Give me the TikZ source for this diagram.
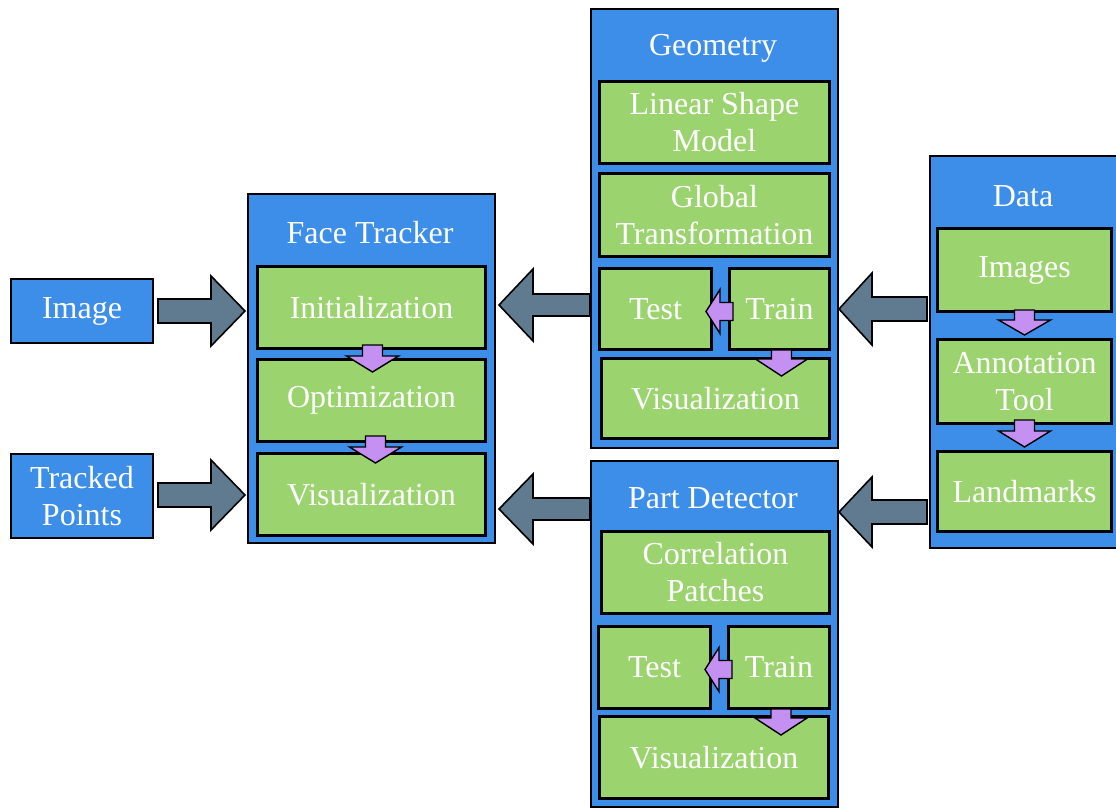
\documentclass[tikz,border=0pt]{standalone}
\usepackage{fontspec}
\setmainfont{Liberation Serif}
\usetikzlibrary{calc}

\definecolor{panelblue}{RGB}{60,142,232}
\definecolor{stepgreen}{RGB}{155,211,111}
\definecolor{flowgray}{RGB}{96,122,143}
\definecolor{flowviolet}{RGB}{196,144,242}

% block arrow from #2 to #3: #4 = half shaft width, #5 = half head width, #6 = head length
\newcommand\blockarrow[6]{%
  \draw[#1] let \p1=#2, \p2=#3,
      \n1={veclen(\x2-\x1,\y2-\y1)},
      \n2={(\x2-\x1)/\n1}, \n3={(\y2-\y1)/\n1} in
    ({\x1-\n3*#4},{\y1+\n2*#4})
    -- ({\x2-\n2*#6-\n3*#4},{\y2-\n3*#6+\n2*#4})
    -- ({\x2-\n2*#6-\n3*#5},{\y2-\n3*#6+\n2*#5})
    -- (\x2,\y2)
    -- ({\x2-\n2*#6+\n3*#5},{\y2-\n3*#6-\n2*#5})
    -- ({\x2-\n2*#6+\n3*#4},{\y2-\n3*#6-\n2*#4})
    -- ({\x1+\n3*#4},{\y1-\n2*#4}) -- cycle;}

\tikzset{
  panel/.style={draw=black, line width=2pt, fill=panelblue, anchor=north west,
    inner sep=0pt},
  stepbox/.style={draw=black, line width=3pt, fill=stepgreen, anchor=north west,
    inner sep=0pt, text=white, align=center},
  inputbox/.style={draw=black, line width=2pt, fill=panelblue, anchor=north west,
    inner sep=0pt, text=white, align=center},
  paneltitle/.style={text=white, inner sep=0pt},
  bigflow/.style={draw=black, line width=1.6pt, fill=flowgray, line join=miter},
  smallflow/.style={draw=black, line width=1.4pt, fill=flowviolet, line join=miter},
}

\begin{document}
\begin{tikzpicture}[x=1pt, y=-1pt, font=\fontsize{32}{37}\selectfont]
\useasboundingbox (0,0) rectangle (1116,808);
\clip (0,0) rectangle (1116,808);

% inputs
\node[inputbox, minimum width=142, minimum height=64] (img) at (10,278) {Image};
\node[inputbox, minimum width=142, minimum height=84] (trk) at (10,453) {Tracked\\Points};

% face tracker
\node[panel, minimum width=247, minimum height=349] (ft) at (247,193) {};
\node[paneltitle] (ftT) at (370,233) {Face Tracker};
\node[stepbox, minimum width=228, minimum height=82] (ftinit) at (256,265) {Initialization};
\node[stepbox, minimum width=228, minimum height=82] (ftopt) at (256,358) {Optimization};
\node[stepbox, minimum width=228, minimum height=82] (ftvis) at (256,452) {Visualization};

% geometry
\node[panel, minimum width=247, minimum height=439] (geo) at (590,8) {};
\node[paneltitle] (geoT) at (713,48) {Geometry};
\node[stepbox, minimum width=230, minimum height=82] (lsm) at (598,80) {Linear Shape\\Model};
\node[stepbox, minimum width=230, minimum height=83] (gt) at (598,172) {Global\\Transformation};
\node[stepbox, minimum width=112, minimum height=81] (gtest) at (598,267) {Test};
\node[stepbox, minimum width=100, minimum height=81] (gtrain) at (728,267) {Train};
\node[stepbox, minimum width=228, minimum height=80] (gvis) at (600,357) {Visualization};

% part detector
\node[panel, minimum width=247, minimum height=346] (pd) at (590,460) {};
\node[paneltitle] (pdT) at (713,498) {Part Detector};
\node[stepbox, minimum width=228, minimum height=82] (cp) at (600,530) {Correlation\\Patches};
\node[stepbox, minimum width=112, minimum height=82] (ptest) at (597,625) {Test};
\node[stepbox, minimum width=101, minimum height=82] (ptrain) at (727,625) {Train};
\node[stepbox, minimum width=229, minimum height=82] (pvis) at (598,715) {Visualization};

% data
\node[panel, minimum width=189, minimum height=392] (data) at (929,155) {};
\node[paneltitle] (dataT) at (1023,196) {Data};
\node[stepbox, minimum width=174, minimum height=83] (imgs) at (936,227) {Images};
\node[stepbox, minimum width=174, minimum height=84] (ann) at (936,338) {Annotation\\Tool};
\node[stepbox, minimum width=174, minimum height=80] (lm) at (936,450) {Landmarks};

% anchor points for the flows between panels
\coordinate (geoout) at ($(geo.west |- gtest.center)+(0,-4)$);
\coordinate (ftgeo)  at ($(ft.east |- geoout)+(3,0)$);
\coordinate (pdout)  at ($(pd.north west)+(0,49)$);
\coordinate (ftpd)   at ($(ft.east |- pdout)+(3,0)$);
\coordinate (datageo) at ($(data.west |- gtest.center)+(-2,0)$);
\coordinate (geoin)   at (geo.east |- datageo);
\coordinate (datapd)  at ($(data.west |- pd.north)+(-2,52)$);
\coordinate (pdin)    at (pd.east |- datapd);

% flows between panels
\blockarrow{bigflow}{($(img.east)+(4,0)$)}{($(ft.west |- img.east)+(-2,0)$)}{12}{35}{34}
\blockarrow{bigflow}{($(trk.east)+(4,-1)$)}{($(ft.west |- trk.east)+(-2,-1)$)}{12}{35}{34}
\blockarrow{bigflow}{(geoout)}{(ftgeo)}{11}{36}{34}
\blockarrow{bigflow}{(pdout)}{(ftpd)}{11}{35}{34}
\blockarrow{bigflow}{(datageo)}{(geoin)}{12}{36}{33}
\blockarrow{bigflow}{(datapd)}{(pdin)}{12}{35}{33}

% flows inside the panels
\blockarrow{smallflow}{($(ftinit.south)+(1,-5)$)}{($(ftopt.north)+(1,14)$)}{10}{26}{16}
\blockarrow{smallflow}{($(ftopt.south)+(4,-7)$)}{($(ftvis.north)+(4,11)$)}{10}{26}{16}
\blockarrow{smallflow}{($(gtrain.west)+(5,2.5)$)}{($(gtest.east |- gtrain.west)+(-7,2.5)$)}{9}{22}{14}
\blockarrow{smallflow}{($(gtrain.south)+(2,-1)$)}{($(gtrain.south |- gvis.north)+(2,19)$)}{10}{26}{17}
\blockarrow{smallflow}{($(ptrain.west)+(5,2)$)}{($(ptest.east |- ptrain.west)+(-7,2)$)}{9}{22}{14}
\blockarrow{smallflow}{($(ptrain.south)+(2,-1)$)}{($(ptrain.south |- pvis.north)+(2,20)$)}{10}{26}{17}
\blockarrow{smallflow}{($(imgs.south)+(0,-3)$)}{($(ann.north)+(0,-3)$)}{10}{26}{15}
\blockarrow{smallflow}{($(ann.south)+(0,-5)$)}{($(lm.north)+(0,-3)$)}{10}{26}{16}
\end{tikzpicture}
\end{document}
